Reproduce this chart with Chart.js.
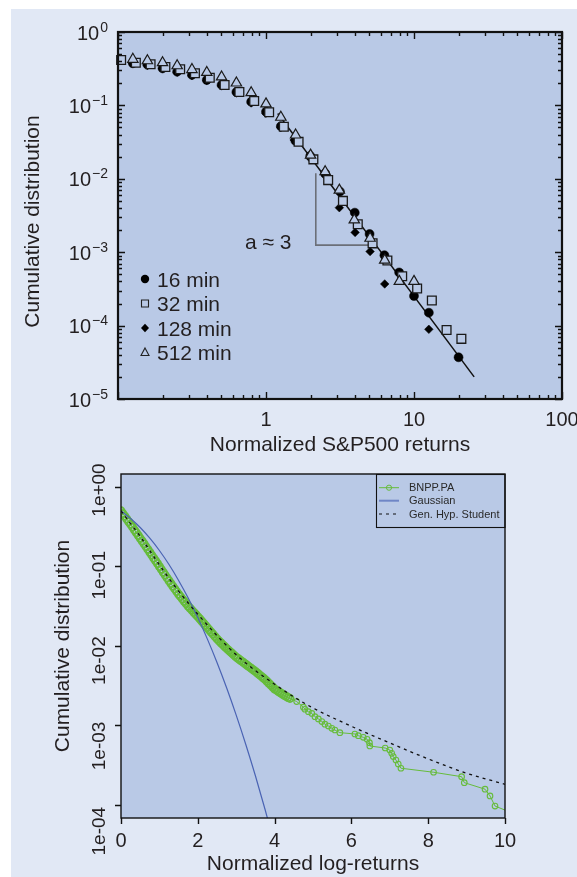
<!DOCTYPE html>
<html><head><meta charset="utf-8">
<script src="https://cdn.jsdelivr.net/npm/chart.js@4.4.0/dist/chart.umd.min.js"></script>
<style>
html,body{margin:0;padding:0;background:#ffffff;width:577px;height:877px;overflow:hidden;}
#bg{position:absolute;left:11px;top:9px;width:566px;height:868px;background:#e1e8f5;}
#c1{position:absolute;left:0;top:0;width:577px;height:460px;}
#c2{position:absolute;left:0;top:460px;width:577px;height:417px;}
</style></head><body>
<div id="bg"></div>
<canvas id="c1" width="577" height="460"></canvas>
<canvas id="c2" width="577" height="417"></canvas>
<script>
// ---------------- TOP CHART DATA (S&P500) ----------------
const x16 = [0.126,0.158,0.200,0.251,0.316,0.398,0.501,0.631,0.794,1.00,1.26,1.58,1.99,2.51,3.16,3.98,5.01,6.31,7.94,10.0,12.6,20.0];
const y16 = [0.375,0.36,0.32,0.288,0.26,0.222,0.19,0.152,0.112,0.082,0.052,0.033,0.0205,0.0119,0.0067,0.00346,0.00177,0.00091,0.00053,0.000253,0.00015,0.000037];
const x32 = [0.105,0.132,0.166,0.209,0.263,0.331,0.417,0.525,0.661,0.832,1.05,1.32,1.66,2.09,2.63,3.31,4.17,5.25,6.61,8.32,10.5,13.2,16.6,20.9];
const y32 = [0.416,0.382,0.363,0.334,0.310,0.274,0.238,0.190,0.152,0.115,0.0805,0.0513,0.032,0.0184,0.0096,0.0050,0.0024,0.00132,0.00077,0.00047,0.00032,0.00022,0.000087,0.000066];
const x128 = [0.126,0.158,0.200,0.251,0.316,0.398,0.501,0.631,0.794,1.00,1.26,1.55,1.99,2.51,3.13,4.00,5.05,6.34,12.6];
const y128 = [0.37,0.35,0.315,0.283,0.255,0.218,0.185,0.148,0.108,0.078,0.05,0.0338,0.019,0.011,0.00404,0.00186,0.00102,0.000369,0.000089];
const x512 = [0.126,0.158,0.200,0.251,0.316,0.398,0.501,0.631,0.794,1.00,1.26,1.585,2.00,2.51,3.13,3.95,5.05,6.34,7.96,10.0];
const y512 = [0.425,0.406,0.382,0.347,0.308,0.281,0.244,0.202,0.149,0.105,0.0689,0.0395,0.021,0.0125,0.0070,0.00275,0.00155,0.00078,0.00040,0.00040];
const fitX = [1.2, 25.5];
const fitY = [0.0776, 0.00002];
const slopeX = [2.17, 2.17, 5.18];
const slopeY = [0.0119, 0.00125, 0.00125];
const topLabels = ['16 min','32 min','128 min','512 min'];
const topXMajor = [0.1, 1, 10, 100];
const topXMajorLabels = ['', '1', '10', '100'];
const topYMajor = [0.00001, 0.0001, 0.001, 0.01, 0.1, 1];
const topYExponents = ['\u22125','\u22124','\u22123','\u22122','\u22121','0'];
const topXTitle = 'Normalized S&P500 returns';
const topYTitle = 'Cumulative distribution';
const slopeText = 'a \u2248 3';

// ---------------- BOTTOM CHART DATA (BNPP.PA) ----------------
const bnpX = [0,0.05,0.1,0.15,0.2,0.25,0.3,0.35,0.4,0.45,
  0.5,0.55,0.6,0.65,0.7,0.75,0.8,0.85,0.9,0.95,
  1.0,1.05,1.1,1.15,1.2,1.25,1.3,1.35,1.4,1.45,
  1.5,1.55,1.6,1.65,1.7,1.75,1.8,1.85,1.9,1.95,
  2.0,2.05,2.1,2.15,2.2,2.25,2.3,2.35,2.4,2.45,
  2.5,2.55,2.6,2.65,2.7,2.75,2.8,2.85,2.9,2.95,
  3.0,3.05,3.1,3.15,3.2,3.25,3.3,3.35,3.4,3.45,
  3.5,3.55,3.6,3.65,3.7,3.75,3.8,3.85,3.9,3.95,
  4.0,4.05,4.1,4.15,4.2,4.25,4.3,4.35,4.4,
  4.575,4.75,4.79,4.88,4.97,5.05,5.14,5.23,5.31,5.40,5.49,5.57,5.70,
  6.09,6.18,6.31,6.41,6.47,6.48,6.88,7.00,7.05,7.09,7.16,7.22,7.29,
  8.14,8.87,8.94,9.48,9.61,9.74,10.4];
const bnpY = [0.501,0.463,0.429,0.396,0.366,0.339,0.313,0.288,0.266,0.245,
  0.226,0.209,0.193,0.178,0.164,0.151,0.139,0.128,0.118,0.109,
  0.100,0.0920,0.0847,0.0780,0.0718,0.0661,0.0611,0.0565,0.0522,0.0483,
  0.0447,0.0417,0.0389,0.0363,0.0339,0.0316,0.0298,0.0281,0.0264,0.0249,
  0.0234,0.0220,0.0206,0.0193,0.0181,0.0170,0.0159,0.0149,0.0140,0.0131,
  0.0123,0.0116,0.0110,0.0104,0.00986,0.00933,0.00887,0.00843,0.00802,0.00762,
  0.00724,0.00695,0.00667,0.00640,0.00614,0.00589,0.00565,0.00542,0.00520,0.00499,
  0.00479,0.00457,0.00437,0.00417,0.00398,0.00380,0.00360,0.00340,0.00322,0.00305,
  0.00288,0.00278,0.00268,0.00258,0.00249,0.00240,0.00233,0.00225,0.00219,
  0.00200,0.00170,0.00160,0.00149,0.00142,0.00129,0.00121,0.00112,0.00104,0.000986,0.000922,0.000877,0.000813,
  0.000782,0.000745,0.000710,0.000670,0.000608,0.000552,0.000521,0.000492,0.000447,0.000406,0.000368,0.000328,0.000290,
  0.000258,0.000227,0.000191,0.000158,0.000130,0.0000970,0.000072];
const gaussX = [0,0.25,0.5,0.75,1.0,1.25,1.5,1.75,2.0,2.25,2.5,2.75,3.0,3.25,3.5,3.75,4.0];
const gaussY = [0.5,0.401,0.309,0.227,0.159,0.106,0.0668,0.0401,0.0228,0.0122,0.00621,0.00298,0.00135,0.000577,0.000233,0.0000884,0.0000317];
const ghsX = [0,0.25,0.5,0.75,1,1.25,1.5,1.75,2,2.5,3,3.5,4,4.5,5,6,7,8,9,10];
const ghsY = [0.501,0.347,0.240,0.158,0.105,0.0708,0.049,0.0347,0.0251,0.0135,0.00776,0.0049,0.00331,0.00229,0.00166,0.000977,0.000603,0.00038,0.000251,0.000182];
const botLabels = ['BNPP.PA','Gaussian','Gen. Hyp. Student'];
const botXTicks = [0,2,4,6,8,10];
const botYTicks = [0.0001,0.001,0.01,0.1,1];
const botYTickLabels = ['1e-04','1e-03','1e-02','1e-01','1e+00'];

// ---------------- STYLE ----------------
const FONT = "'Liberation Sans', Arial, Helvetica, sans-serif";
const PLOT_BG = '#b9c9e6';
const INK = '#231f20';
const GREEN = '#66bc3b';
const BLUE = '#4a63b3';
const DENSE_N = 89;

function pts(xs, ys){ return xs.map((x,i)=>({x:x, y:ys[i]})); }
function isPow10(v){ const l=Math.log10(v); return Math.abs(l-Math.round(l))<1e-6; }
function withMinors(majors){
  const out=[];
  for(let i=0;i<majors.length;i++){
    out.push(majors[i]);
    if(i<majors.length-1){ for(let k=2;k<=9;k++) out.push(+(majors[i]*k).toPrecision(6)); }
  }
  return out;
}

Chart.defaults.font.family = FONT;
Chart.defaults.color = INK;

// ---------------- TOP CHART ----------------
const topPlugin = {
  id:'topPlugin',
  beforeDraw(c){
    const {ctx, chartArea:a} = c;
    ctx.save(); ctx.fillStyle=PLOT_BG; ctx.fillRect(a.left,a.top,a.right-a.left,a.bottom-a.top); ctx.restore();
  },
  afterDraw(c){
    const {ctx, chartArea:a, scales:{x,y}} = c;
    ctx.save();
    ctx.strokeStyle='#111'; ctx.lineWidth=1.4;
    ctx.beginPath();
    x.ticks.forEach(t=>{
      const p=Math.round(x.getPixelForValue(t.value))+0.5; const L=isPow10(t.value)?7:4;
      ctx.moveTo(p,a.bottom); ctx.lineTo(p,a.bottom-L);
      ctx.moveTo(p,a.top); ctx.lineTo(p,a.top+L);
    });
    y.ticks.forEach(t=>{
      const p=Math.round(y.getPixelForValue(t.value))+0.5; const L=isPow10(t.value)?7:4;
      ctx.moveTo(a.left,p); ctx.lineTo(a.left+L,p);
      ctx.moveTo(a.right,p); ctx.lineTo(a.right-L,p);
    });
    ctx.stroke();
    ctx.lineWidth=2.2; ctx.strokeStyle='#111';
    ctx.strokeRect(a.left,a.top,a.right-a.left,a.bottom-a.top);
    // y tick labels: 10 with raised exponent
    ctx.fillStyle=INK; ctx.textAlign='right'; ctx.textBaseline='alphabetic';
    topYMajor.forEach((v,i)=>{
      const p=y.getPixelForValue(v);
      const rx=a.left-10;
      ctx.font='14px '+FONT;
      const ew=ctx.measureText(topYExponents[i]).width;
      ctx.fillText(topYExponents[i], rx, p-0.5);
      ctx.font='20px '+FONT;
      ctx.fillText('10', rx-ew-1, p+7.5);
    });
    // y title
    ctx.save(); ctx.font='21px '+FONT; ctx.textAlign='center'; ctx.textBaseline='middle';
    ctx.translate(33, (a.top+a.bottom)/2+6); ctx.rotate(-Math.PI/2); ctx.fillText(topYTitle,0,0); ctx.restore();
    // slope text
    ctx.fillStyle=INK; ctx.font='21px '+FONT; ctx.textAlign='left'; ctx.textBaseline='middle';
    ctx.fillText(slopeText, x.getPixelForValue(0.72), y.getPixelForValue(0.00133));
    // legend
    const rows=[247,271.5,296,320.5];
    const mx=a.left+27, tx=a.left+39;
    topLabels.forEach((lab,i)=>{
      const yy=a.top+rows[i];
      ctx.fillStyle=INK; ctx.fillText(lab, tx, yy+2);
      ctx.lineWidth=1.1; ctx.strokeStyle='#222';
      ctx.beginPath();
      if(i===0){ ctx.fillStyle='#000'; ctx.arc(mx,yy,4.2,0,Math.PI*2); ctx.fill(); }
      else if(i===1){ ctx.rect(mx-3.5,yy-3.5,7,7); ctx.fillStyle=PLOT_BG; ctx.fill(); ctx.stroke(); }
      else if(i===2){ ctx.fillStyle='#000'; ctx.moveTo(mx,yy-4.2); ctx.lineTo(mx+4,yy); ctx.lineTo(mx,yy+4.2); ctx.lineTo(mx-4,yy); ctx.closePath(); ctx.fill(); }
      else { ctx.moveTo(mx,yy-4.5); ctx.lineTo(mx+4,yy+3); ctx.lineTo(mx-4,yy+3); ctx.closePath(); ctx.stroke(); }
    });
    ctx.restore();
  }
};

new Chart(document.getElementById('c1'), {
  type:'scatter',
  data:{ datasets:[
    {label:topLabels[3], data:pts(x512,y512), pointStyle:'triangle', pointRadius:6, borderWidth:1.2, borderColor:'#1a1a1a', backgroundColor:PLOT_BG, order:0, clip:false},
    {label:topLabels[1], data:pts(x32,y32), pointStyle:'rect', pointRadius:6.2, borderWidth:1.3, borderColor:'#1a1a1a', backgroundColor:PLOT_BG, order:1, clip:false},
    {label:topLabels[2], data:pts(x128,y128), pointStyle:'rectRot', pointRadius:4.3, borderWidth:0.5, borderColor:'#000', backgroundColor:'#000', order:2, clip:false},
    {label:topLabels[0], data:pts(x16,y16), pointStyle:'circle', pointRadius:4.5, borderWidth:0.5, borderColor:'#000', backgroundColor:'#000', order:3, clip:false},
    {label:'fit', data:pts(fitX,fitY), showLine:true, pointRadius:0, borderColor:'#111', borderWidth:1.5, order:4},
    {label:'slope', data:pts(slopeX,slopeY), showLine:true, pointRadius:0, borderColor:'#6b6f78', borderWidth:1.6, order:5}
  ]},
  options:{
    responsive:false, animation:false, events:[],
    layout:{padding:{left:0,right:15,top:32,bottom:0}},
    plugins:{legend:{display:false}, tooltip:{enabled:false}},
    scales:{
      x:{ type:'logarithmic', min:0.1, max:100,
        afterBuildTicks(s){ s.ticks = withMinors(topXMajor).map(v=>({value:v})); },
        afterFit(s){ s.height=61; s.paddingLeft=0; s.paddingRight=0; },
        grid:{display:false}, border:{display:false},
        ticks:{ autoSkip:false, maxRotation:0, padding:1, font:{size:20}, color:INK,
          callback(v){ const i=topXMajor.findIndex(m=>Math.abs(m-v)/m<1e-6); return i>=0?topXMajorLabels[i]:''; } },
        title:{display:true, text:topXTitle, font:{size:21}, color:INK, padding:{top:0,bottom:2}}
      },
      y:{ type:'logarithmic', min:0.00001, max:1,
        afterBuildTicks(s){ s.ticks = withMinors(topYMajor).map(v=>({value:v})); },
        afterFit(s){ s.width=118; s.paddingTop=0; s.paddingBottom=0; },
        grid:{display:false}, border:{display:false},
        ticks:{ display:false },
        title:{display:false}
      }
    }
  },
  plugins:[topPlugin]
});

// ---------------- BOTTOM CHART ----------------
const botPlugin = {
  id:'botPlugin',
  beforeDraw(c){
    const {ctx, chartArea:a} = c;
    ctx.save(); ctx.fillStyle=PLOT_BG; ctx.fillRect(a.left,a.top,a.right-a.left,a.bottom-a.top); ctx.restore();
  },
  afterDraw(c){
    const {ctx, chartArea:a, scales:{x,y}} = c;
    ctx.save();
    ctx.strokeStyle='#111'; ctx.lineWidth=1.4;
    ctx.strokeRect(a.left,a.top,a.right-a.left,a.bottom-a.top);
    ctx.beginPath();
    x.ticks.forEach(t=>{ const p=Math.round(x.getPixelForValue(t.value))+0.5; ctx.moveTo(p,a.bottom); ctx.lineTo(p,a.bottom+6); });
    y.ticks.forEach(t=>{ const p=Math.round(y.getPixelForValue(t.value))+0.5; ctx.moveTo(a.left,p); ctx.lineTo(a.left-6,p); });
    ctx.stroke();
    // rotated y tick labels
    ctx.fillStyle=INK; ctx.font='19px '+FONT; ctx.textAlign='center'; ctx.textBaseline='middle';
    const p0 = y.getPixelForValue(1);
    botYTicks.forEach((v,i)=>{
      const p = y.getPixelForValue(v);
      const py = p0 + 3 + (p-p0)*1.073;
      ctx.save(); ctx.translate(a.left-21, py); ctx.rotate(-Math.PI/2); ctx.fillText(botYTickLabels[i],0,0); ctx.restore();
    });
    // legend box
    const bw=129, bh=53, bx=a.right-bw, by=a.top;
    ctx.lineWidth=1.1; ctx.strokeStyle='#111';
    ctx.strokeRect(bx+0.5,by+0.5,bw-0.5,bh);
    const rows=[13.7,26.7,40];
    ctx.font='11px '+FONT; ctx.textAlign='left'; ctx.textBaseline='middle';
    rows.forEach((r,i)=>{
      const yy=by+r, x1=bx+3, x2=bx+23;
      ctx.save();
      if(i===0){ ctx.strokeStyle=GREEN; ctx.lineWidth=1; ctx.beginPath(); ctx.moveTo(x1,yy); ctx.lineTo(x2,yy); ctx.stroke();
        ctx.beginPath(); ctx.arc((x1+x2)/2,yy,2.6,0,Math.PI*2); ctx.stroke(); }
      else if(i===1){ ctx.strokeStyle='#6f86c6'; ctx.lineWidth=2; ctx.beginPath(); ctx.moveTo(x1,yy); ctx.lineTo(x2,yy); ctx.stroke(); }
      else { ctx.strokeStyle='#111'; ctx.lineWidth=1.2; ctx.setLineDash([3,4]); ctx.beginPath(); ctx.moveTo(x1,yy); ctx.lineTo(x2,yy); ctx.stroke(); }
      ctx.restore();
      ctx.fillStyle='#2a2a2a'; ctx.fillText(botLabels[i], bx+33, yy+0.5);
    });
    ctx.restore();
  }
};

new Chart(document.getElementById('c2'), {
  type:'scatter',
  data:{ datasets:[
    {label:botLabels[2], data:pts(ghsX,ghsY), showLine:true, pointRadius:0, borderColor:'#111', borderWidth:1.3, borderDash:[3,4], cubicInterpolationMode:'monotone', order:0},
    {label:botLabels[1], data:pts(gaussX,gaussY), showLine:true, pointRadius:0, borderColor:BLUE, borderWidth:1.2, cubicInterpolationMode:'monotone', order:1},
    {label:botLabels[0], data:pts(bnpX,bnpY), showLine:true,
      pointRadius:(ctx)=> ctx.dataIndex < DENSE_N ? 3.6 : 2.8,
      pointBorderWidth:(ctx)=> ctx.dataIndex < DENSE_N ? 1.8 : 1.1,
      pointStyle:'circle', borderColor:GREEN, backgroundColor:'rgba(0,0,0,0)', pointBorderColor:GREEN, pointBackgroundColor:'rgba(0,0,0,0)', borderWidth:1, order:2}
  ]},
  options:{
    responsive:false, animation:false, events:[],
    layout:{padding:{left:0,right:72,top:14,bottom:0}},
    plugins:{legend:{display:false}, tooltip:{enabled:false}},
    scales:{
      x:{ type:'linear', min:0, max:10,
        afterBuildTicks(s){ s.ticks = botXTicks.map(v=>({value:v})); },
        afterFit(s){ s.height=59; s.paddingLeft=0; s.paddingRight=0; },
        grid:{display:false}, border:{display:false},
        ticks:{ autoSkip:false, maxRotation:0, padding:3, font:{size:20}, color:INK },
        title:{display:true, text:'Normalized log-returns', font:{size:21}, color:INK, padding:{top:0,bottom:0}}
      },
      y:{ type:'logarithmic', min:0.0000686, max:1.457,
        afterBuildTicks(s){ s.ticks = botYTicks.map(v=>({value:v})); },
        afterFit(s){ s.width=121; s.paddingTop=0; s.paddingBottom=0; },
        grid:{display:false}, border:{display:false},
        ticks:{ display:false },
        title:{display:true, text:'Cumulative distribution', font:{size:21}, color:INK, padding:{top:51,bottom:0}}
      }
    }
  },
  plugins:[botPlugin]
});
</script>
</body></html>
